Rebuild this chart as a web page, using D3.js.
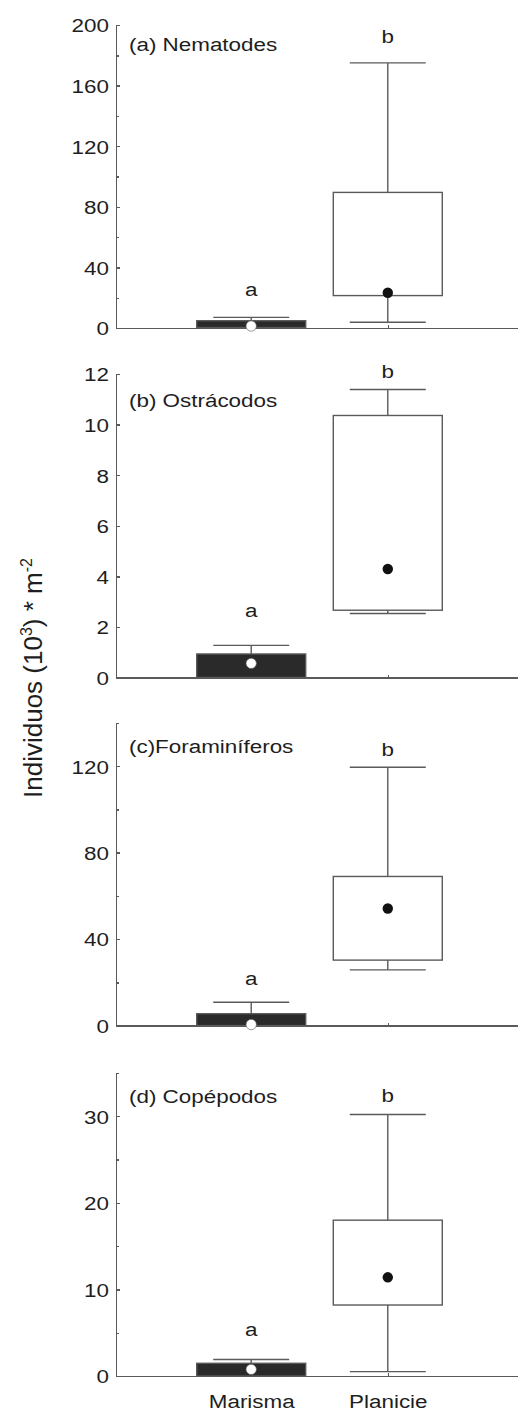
<!DOCTYPE html>
<html>
  <head>
    <meta charset="utf-8">
    <script src="https://cdn.jsdelivr.net/npm/d3@7"></script>
    <style type="text/css">
      body { margin: 0; background: #fff; }
      text { font-family: "Liberation Sans", Arial, sans-serif; fill: #1e1e1e; }
      .axis path, .axis line { stroke: #5a5a5a; stroke-width: 1.4; shape-rendering: crispEdges; }
    </style>
  </head>
  <body>
    <div class="plot_canvas"></div>
    <script>

    // data
    var groups = ["Marisma", "Planicie"];
    var titles = ["(a) Nematodes", "(b) Ostrácodos", "(c)Foraminíferos", "(d) Copépodos"];
    var yMax = [200, 12, 140, 35];
    var majorTicks = [[0, 40, 80, 120, 160, 200], [0, 2, 4, 6, 8, 10, 12], [0, 40, 80, 120], [0, 10, 20, 30]];
    var minorTicks = [[20, 60, 100, 140, 180], [], [20, 60, 100, 140], [5, 15, 25, 35]];
    var letters = [["a", "b"], ["a", "b"], ["a", "b"], ["a", "b"]];
    // [whisker low, box low, box high, whisker high, point] per group
    var marisma = [
      [0.2, 0.3, 4.8, 7.0, 1.3],
      [0, 0, 0.93, 1.27, 0.56],
      [0, 0, 5.5, 10.8, 0.5],
      [0, 0, 1.47, 1.9, 0.77]
    ];
    var planicie = [
      [3.8, 21.4, 89.5, 175, 23.3],
      [2.53, 2.66, 10.36, 11.39, 4.29],
      [25.8, 30.3, 69.0, 119.5, 54.2],
      [0.5, 8.2, 18.0, 30.2, 11.4]
    ];

    var W = 518, H = 1416;
    var axisX = 116;
    var panelTop = [25, 374, 723, 1073];
    var panelZero = [328, 677.5, 1025.6, 1376];
    // gap (px) between whisker cap and centre of the letter above it
    var letterGap = [[27, 27], [33.5, 18.7], [22, 17.7], [29, 19.6]];
    var stretch = 1.18, fs = 19;
    var boxHalf = 54.5, capHalf = 38;

    var svg = d3.select(".plot_canvas").append("svg")
      .attr("width", W).attr("height", H);

    var xScale = d3.scalePoint().domain(groups).range([axisX, 523]).padding(0.99);

    function stext(g, x, y, str, anchor) {
      return g.append("text")
        .attr("transform", "translate(" + x + "," + y + ") scale(" + stretch + ",1)")
        .attr("text-anchor", anchor)
        .style("font-size", fs + "px")
        .text(str);
    }

    titles.forEach(function(title, i) {
      var g = svg.append("g");
      var yScale = d3.scaleLinear().domain([0, yMax[i]]).range([panelZero[i], panelTop[i]]);

      // minor ticks
      g.append("g").attr("class", "axis")
        .attr("transform", "translate(" + axisX + ",0)")
        .call(d3.axisLeft(yScale).tickValues(minorTicks[i]).tickSizeInner(-3).tickSizeOuter(0).tickFormat(""))
        .select(".domain").remove();

      // major ticks and labels
      var ya = g.append("g").attr("class", "axis")
        .attr("transform", "translate(" + axisX + ",0)")
        .call(d3.axisLeft(yScale).tickValues(majorTicks[i]).tickSizeInner(-4).tickSizeOuter(0).tickPadding(7));
      ya.selectAll("text")
        .attr("x", null).attr("dy", null)
        .attr("transform", function() { return "translate(-7," + (0.36 * fs) + ") scale(" + stretch + ",1)"; })
        .style("font-size", fs + "px")
        .attr("fill", "#1e1e1e");

      // x axis
      var xa = g.append("g").attr("class", "axis")
        .attr("transform", "translate(0," + panelZero[i] + ")")
        .call(d3.axisBottom(xScale).tickSizeInner(-3).tickSizeOuter(0).tickPadding(12));
      if (i < 3) xa.selectAll("text").remove();
      else xa.selectAll("text")
        .attr("y", null).attr("dy", null)
        .attr("transform", "translate(0,32) scale(" + stretch + ",1)")
        .style("font-size", fs + "px")
        .attr("fill", "#1e1e1e");

      var stats = [marisma[i], planicie[i]];
      groups.forEach(function(grp, j) {
        var s = stats[j];
        var cx = xScale(grp);
        var line = "#5a5a5a";
        // whiskers
        g.append("line").attr("x1", cx).attr("x2", cx)
          .attr("y1", yScale(s[0])).attr("y2", yScale(s[3]))
          .attr("stroke", line).attr("stroke-width", 1.4);
        [s[0], s[3]].forEach(function(v) {
          g.append("line").attr("x1", cx - capHalf).attr("x2", cx + capHalf)
            .attr("y1", yScale(v)).attr("y2", yScale(v))
            .attr("stroke", line).attr("stroke-width", 1.4);
        });
        // box
        g.append("rect")
          .attr("x", cx - boxHalf).attr("width", 2 * boxHalf)
          .attr("y", yScale(s[2])).attr("height", yScale(s[1]) - yScale(s[2]))
          .attr("fill", j === 0 ? "#2a2a2a" : "#fff")
          .attr("stroke", line).attr("stroke-width", 1.4);
        // point
        g.append("circle").attr("cx", cx).attr("cy", yScale(s[4]))
          .attr("r", 5.2)
          .attr("fill", j === 0 ? "#fff" : "#111")
          .attr("stroke", j === 0 ? "#555" : "none").attr("stroke-width", 0.6);
        // significance letter (centre of glyph at the gap)
        var lc = yScale(s[3]) - letterGap[i][j];
        stext(g, cx, lc + (letters[i][j] === "a" ? 0.27 : 0.36) * fs, letters[i][j], "middle");
      });

      stext(g, 129, panelTop[i] + (i === 0 ? 26 : i === 1 ? 33 : 30), title, "start");
    });

    // y label
    var yl = svg.append("text")
      .attr("transform", "translate(42,678) rotate(-90)")
      .attr("text-anchor", "middle")
      .style("font-size", "26px");
    yl.append("tspan").text("Individuos (10");
    yl.append("tspan").attr("dy", -10).style("font-size", "16px").text("3");
    yl.append("tspan").attr("dy", 10).text(") * m");
    yl.append("tspan").attr("dy", -10).style("font-size", "16px").text("-2");

    </script>
  </body>
</html>
